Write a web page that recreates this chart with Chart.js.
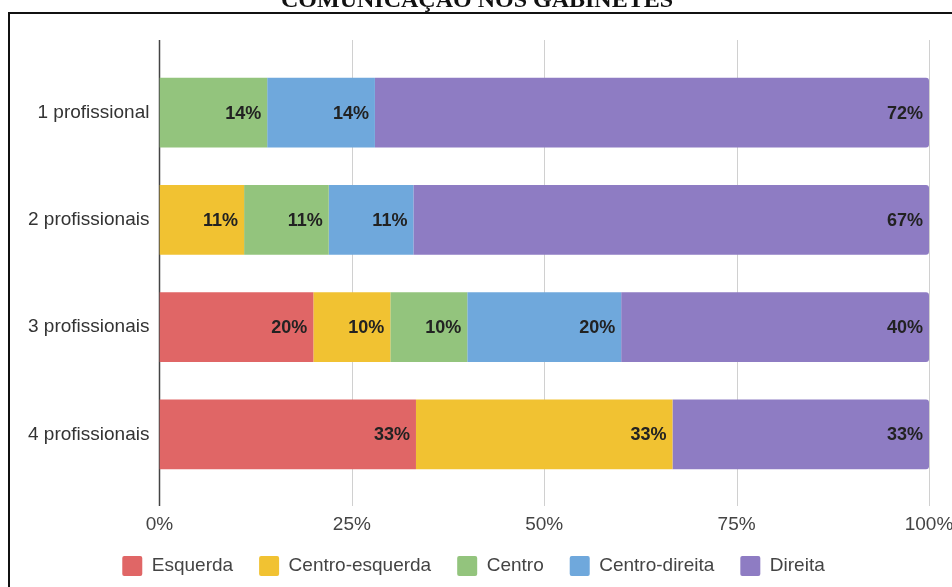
<!DOCTYPE html>
<html>
<head>
<meta charset="utf-8">
<script src="https://cdn.jsdelivr.net/npm/chart.js@4"></script>
<style>
  html, body { margin: 0; padding: 0; background: #fff; overflow: hidden; }
  #wrap { position: absolute; left: 0; top: 0; width: 952px; height: 587px; }
</style>
</head>
<body>
<div id="wrap"><canvas id="myChart" width="952" height="587"></canvas></div>
<script>
const categories = ['1 profissional', '2 profissionais', '3 profissionais', '4 profissionais'];
const esquerda       = [0, 0, 20, 33];
const centroEsquerda = [0, 11, 10, 33];
const centro         = [14, 11, 10, 0];
const centroDireita  = [14, 11, 20, 0];
const direita        = [72, 67, 40, 33];
const xTicks = [0, 25, 50, 75, 100];
const title = 'COMUNICAÇÃO NOS GABINETES';

Chart.defaults.font.family = '"Liberation Sans", Arial, sans-serif';

const series = [
  { label: 'Esquerda',        values: esquerda,       color: '#e06666' },
  { label: 'Centro-esquerda', values: centroEsquerda, color: '#f1c232' },
  { label: 'Centro',          values: centro,         color: '#93c47d' },
  { label: 'Centro-direita',  values: centroDireita,  color: '#6fa8dc' },
  { label: 'Direita',         values: direita,        color: '#8e7cc3' }
];

// each row is stacked to 100% of its own total
const rowTotals = categories.map((c, i) => series.reduce((s, d) => s + d.values[i], 0));

const datasets = series.map((d, k) => ({
  label: d.label,
  data: d.values.map((v, i) => v / rowTotals[i] * 100),
  raw: d.values,
  backgroundColor: d.color,
  borderWidth: 0,
  borderSkipped: false,
  borderRadius: k === series.length - 1 ? { topRight: 3, bottomRight: 3 } : 0,
  barPercentage: 1,
  categoryPercentage: 0.652
}));

// vertical grid lines reach above and below the bars, with the % labels under them
const gridLines = {
  id: 'gridLines',
  beforeDatasetsDraw(chart) {
    const ctx = chart.ctx, area = chart.chartArea, x = chart.scales.x;
    ctx.save();
    xTicks.forEach(t => {
      const px = Math.round(x.getPixelForValue(t)) + 0.5;
      ctx.beginPath();
      ctx.strokeStyle = t === 0 ? '#444' : '#d0d0d0';
      ctx.lineWidth = t === 0 ? 1.5 : 1;
      ctx.moveTo(px, area.top - 19);
      ctx.lineTo(px, area.bottom + 18);
      ctx.stroke();
    });
    ctx.font = '19px "Liberation Sans", Arial, sans-serif';
    ctx.fillStyle = '#444';
    ctx.textAlign = 'center';
    ctx.textBaseline = 'middle';
    xTicks.forEach(t => {
      ctx.fillText(t + '%', x.getPixelForValue(t), area.bottom + 37);
    });
    ctx.restore();
  }
};

// percentage text at the inner end of each segment
const barLabels = {
  id: 'barLabels',
  afterDatasetsDraw(chart) {
    const ctx = chart.ctx;
    ctx.save();
    ctx.font = 'bold 18px "Liberation Sans", Arial, sans-serif';
    ctx.fillStyle = '#222';
    ctx.textAlign = 'right';
    ctx.textBaseline = 'middle';
    chart.data.datasets.forEach((ds, k) => {
      chart.getDatasetMeta(k).data.forEach((bar, i) => {
        if (!ds.raw[i]) return;
        ctx.fillText(ds.raw[i] + '%', bar.x - 6, bar.y + 1);
      });
    });
    ctx.restore();
  }
};

// page frame and heading
const frame = {
  id: 'frame',
  afterDraw(chart) {
    const ctx = chart.ctx;
    ctx.save();
    ctx.strokeStyle = '#111';
    ctx.lineWidth = 2;
    ctx.beginPath();
    ctx.moveTo(9, 600);
    ctx.lineTo(9, 13);
    ctx.lineTo(960, 13);
    ctx.stroke();
    ctx.font = 'bold 24px "Liberation Serif", "Times New Roman", serif';
    ctx.fillStyle = '#111';
    ctx.textAlign = 'center';
    ctx.textBaseline = 'alphabetic';
    ctx.fillText(title, 477, 7);
    ctx.restore();
  }
};

new Chart(document.getElementById('myChart').getContext('2d'), {
  type: 'bar',
  data: { labels: categories, datasets: datasets },
  plugins: [gridLines, barLabels, frame],
  options: {
    indexAxis: 'y',
    responsive: false,
    animation: false,
    layout: { padding: { top: 59, left: 18, right: 23, bottom: 1 } },
    scales: {
      x: {
        stacked: true,
        min: 0,
        max: 100,
        grid: { display: false, drawTicks: false },
        border: { display: false },
        ticks: { display: false },
        afterBuildTicks(scale) { scale.ticks = xTicks.map(v => ({ value: v })); },
        afterFit(scale) {
          scale.height = 42;
          scale.paddingLeft = 0;
          scale.paddingRight = 0;
        }
      },
      y: {
        stacked: true,
        grid: { display: false, drawTicks: false },
        border: { display: false },
        ticks: { padding: 10, color: '#333', font: { size: 19 } }
      }
    },
    plugins: {
      legend: {
        position: 'bottom',
        labels: {
          boxWidth: 20,
          boxHeight: 20,
          padding: 26,
          useBorderRadius: true,
          borderRadius: 2,
          color: '#444',
          font: { size: 19 }
        }
      },
      tooltip: { enabled: false }
    }
  }
});
</script>
</body>
</html>
